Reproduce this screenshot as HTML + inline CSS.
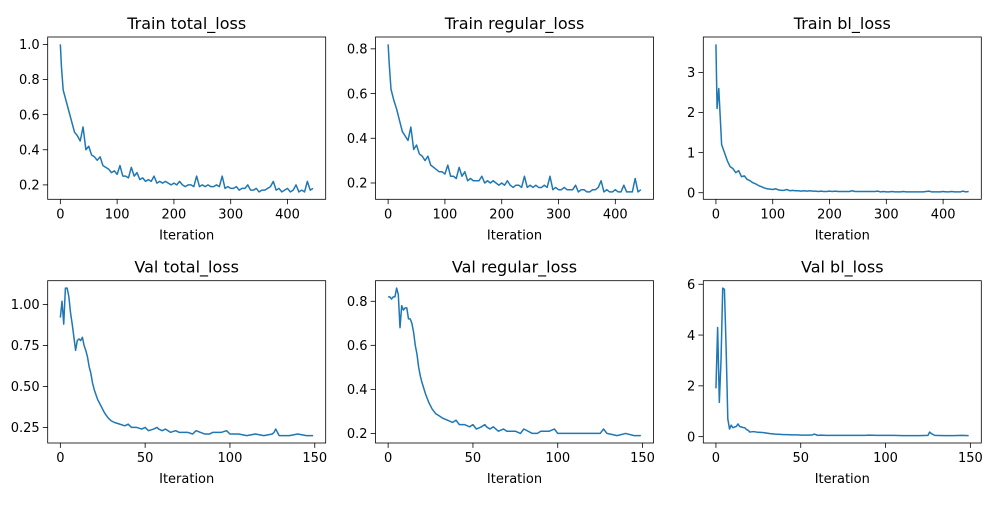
<!DOCTYPE html>
<html><head><meta charset="utf-8"><style>
body{margin:0;background:#fff;}
svg text{font-family:"DejaVu Sans","Liberation Sans",sans-serif;fill:#000;}
</style></head><body>
<svg id="fig" width="1000" height="500" xmlns="http://www.w3.org/2000/svg"></svg>
<script>
const trainX=[0,2,5,10,15,20,25,30,35,40,45,50,55,60,65,70,75,80,85,90,95,100,105,110,115,120,125,130,135,140,145,150,155,160,165,170,175,180,185,190,195,200,205,210,215,220,225,230,235,240,245,250,255,260,265,270,275,280,285,290,295,300,305,310,315,320,325,330,335,340,345,350,355,360,365,370,375,380,385,390,395,400,405,410,415,420,425,430,435,440,445];
const trainTotal=[1.0,0.87,0.74,0.68,0.62,0.56,0.5,0.48,0.45,0.53,0.4,0.42,0.37,0.36,0.34,0.36,0.31,0.3,0.29,0.27,0.28,0.26,0.31,0.25,0.25,0.24,0.3,0.25,0.27,0.23,0.24,0.22,0.23,0.22,0.25,0.21,0.22,0.21,0.22,0.21,0.2,0.21,0.2,0.22,0.2,0.19,0.2,0.2,0.19,0.25,0.19,0.2,0.19,0.2,0.19,0.19,0.2,0.19,0.25,0.18,0.19,0.18,0.18,0.19,0.17,0.18,0.18,0.2,0.17,0.17,0.18,0.16,0.17,0.17,0.18,0.19,0.22,0.17,0.18,0.16,0.17,0.18,0.16,0.17,0.2,0.16,0.17,0.16,0.22,0.17,0.18];
const trainRegular=[0.82,0.73,0.62,0.57,0.53,0.48,0.43,0.41,0.39,0.45,0.35,0.37,0.33,0.32,0.3,0.32,0.28,0.27,0.26,0.25,0.25,0.24,0.28,0.23,0.23,0.22,0.27,0.23,0.25,0.21,0.22,0.21,0.21,0.21,0.23,0.2,0.21,0.2,0.21,0.2,0.19,0.2,0.19,0.21,0.19,0.18,0.19,0.19,0.18,0.23,0.18,0.19,0.18,0.19,0.18,0.18,0.19,0.18,0.23,0.17,0.18,0.17,0.17,0.18,0.17,0.17,0.17,0.19,0.16,0.17,0.17,0.16,0.16,0.17,0.17,0.18,0.21,0.16,0.17,0.16,0.16,0.17,0.16,0.16,0.19,0.16,0.16,0.16,0.22,0.16,0.17];
const trainBl=[3.7,2.1,2.6,1.2,1.0,0.8,0.65,0.6,0.5,0.55,0.4,0.42,0.33,0.3,0.25,0.22,0.18,0.15,0.12,0.1,0.09,0.08,0.1,0.07,0.06,0.06,0.08,0.05,0.06,0.05,0.05,0.04,0.05,0.04,0.05,0.04,0.04,0.03,0.04,0.03,0.03,0.04,0.03,0.04,0.03,0.03,0.03,0.03,0.03,0.05,0.03,0.03,0.03,0.03,0.03,0.03,0.03,0.03,0.04,0.02,0.03,0.02,0.02,0.03,0.02,0.02,0.02,0.03,0.02,0.02,0.02,0.02,0.02,0.02,0.02,0.03,0.04,0.02,0.02,0.02,0.02,0.03,0.02,0.02,0.03,0.02,0.02,0.02,0.04,0.02,0.03];
const valX=[0,1,2,3,4,5,6,7,8,9,10,11,12,13,14,15,16,17,18,19,20,22,24,26,28,30,32,35,38,40,42,45,48,50,52,55,57,58,60,62,65,68,70,75,78,80,85,88,90,95,98,100,105,110,115,120,125,126,127,129,135,140,145,149];
const valTotal=[0.92,1.02,0.88,1.1,1.1,1.05,0.95,0.88,0.8,0.72,0.78,0.79,0.78,0.8,0.75,0.72,0.68,0.62,0.58,0.52,0.48,0.42,0.38,0.34,0.31,0.29,0.28,0.27,0.26,0.27,0.25,0.25,0.24,0.25,0.23,0.24,0.25,0.24,0.23,0.24,0.22,0.23,0.22,0.22,0.21,0.23,0.21,0.21,0.22,0.22,0.23,0.21,0.21,0.2,0.21,0.2,0.21,0.22,0.24,0.2,0.2,0.21,0.2,0.2];
const valRegular=[0.82,0.82,0.81,0.82,0.82,0.86,0.83,0.68,0.78,0.76,0.77,0.77,0.72,0.72,0.7,0.66,0.6,0.56,0.5,0.46,0.43,0.38,0.34,0.31,0.29,0.28,0.27,0.26,0.25,0.26,0.24,0.24,0.23,0.24,0.22,0.23,0.24,0.23,0.22,0.23,0.21,0.22,0.21,0.21,0.2,0.22,0.2,0.2,0.21,0.21,0.22,0.2,0.2,0.2,0.2,0.2,0.2,0.21,0.22,0.2,0.19,0.2,0.19,0.19];
const valBl=[1.9,4.3,1.35,3.0,5.85,5.8,3.5,0.7,0.3,0.45,0.35,0.38,0.4,0.5,0.4,0.38,0.36,0.35,0.28,0.25,0.18,0.2,0.18,0.17,0.16,0.14,0.12,0.1,0.09,0.08,0.08,0.07,0.07,0.06,0.06,0.06,0.07,0.1,0.05,0.06,0.05,0.05,0.05,0.05,0.05,0.05,0.05,0.05,0.06,0.05,0.05,0.05,0.05,0.04,0.04,0.04,0.05,0.18,0.12,0.05,0.04,0.04,0.05,0.04];
const trainXTicks=[0,100,200,300,400];
const valXTicks=[0,50,100,150];
const plots=[
 {name:'train-total-loss',title:'Train total_loss',x:trainX,y:trainTotal,xmax:445,yt:[0.2,0.4,0.6,0.8,1.0],lab:['0.2','0.4','0.6','0.8','1.0'],xt:trainXTicks,col:0,row:0},
 {name:'train-regular-loss',title:'Train regular_loss',x:trainX,y:trainRegular,xmax:445,yt:[0.2,0.4,0.6,0.8],lab:['0.2','0.4','0.6','0.8'],xt:trainXTicks,col:1,row:0},
 {name:'train-bl-loss',title:'Train bl_loss',x:trainX,y:trainBl,xmax:445,yt:[0,1,2,3],lab:['0','1','2','3'],xt:trainXTicks,col:2,row:0},
 {name:'val-total-loss',title:'Val total_loss',x:valX,y:valTotal,xmax:149,yt:[0.25,0.5,0.75,1.0],lab:['0.25','0.50','0.75','1.00'],xt:valXTicks,col:0,row:1},
 {name:'val-regular-loss',title:'Val regular_loss',x:valX,y:valRegular,xmax:149,yt:[0.2,0.4,0.6,0.8],lab:['0.2','0.4','0.6','0.8'],xt:valXTicks,col:1,row:1},
 {name:'val-bl-loss',title:'Val bl_loss',x:valX,y:valBl,xmax:149,yt:[0,2,4,6],lab:['0','2','4','6'],xt:valXTicks,col:2,row:1}
];
const NS='http://www.w3.org/2000/svg';
const fig=document.getElementById('fig');
function mk(tag,attrs,parent){const e=document.createElementNS(NS,tag);for(const k in attrs)e.setAttribute(k,attrs[k]);parent.appendChild(e);return e;}
const lefts=[47.7,375.5,703.3],tops=[37,280.7],W=278,H=162.3;
plots.forEach(p=>{
 const g=mk('g',{},fig);
 
 
 const L=lefts[p.col],T=tops[p.row];
 const x0=-0.05*p.xmax,x1=p.xmax*1.05;
 let mn=Math.min(...p.y),mx=Math.max(...p.y);const r=mx-mn;const y0=mn-0.05*r,y1=mx+0.05*r;
 const sx=v=>L+(v-x0)/(x1-x0)*W, sy=v=>T+H-(v-y0)/(y1-y0)*H;
 const d=p.x.map((v,i)=>(i?'L':'M')+sx(v).toFixed(2)+','+sy(p.y[i]).toFixed(2)).join('');
 const path=mk('path',{d:d,fill:'none',stroke:'#1f77b4','stroke-width':1.5,'stroke-linejoin':'round'},g);
 
 
 const fr=mk('rect',{x:L,y:T,width:W,height:H,fill:'none',stroke:'#000','stroke-width':0.8},g);
 
 
 p.xt.forEach(t=>{const X=sx(t);mk('line',{x1:X,x2:X,y1:T+H,y2:T+H+4.9,stroke:'#000','stroke-width':0.8},g);
  const tx=mk('text',{x:X,y:T+H+19,'text-anchor':'middle','font-size':13},g);tx.textContent=t;
  
  });
 p.yt.forEach((t,i)=>{const Y=sy(t);mk('line',{x1:L-4.9,x2:L,y1:Y,y2:Y,stroke:'#000','stroke-width':0.8},g);
  const tx=mk('text',{x:L-8,y:Y+4.7,'text-anchor':'end','font-size':13},g);tx.textContent=p.lab[i];
  
  });
 const xl=mk('text',{x:L+W/2,y:T+H+40,'text-anchor':'middle','font-size':13},g);xl.textContent='Iteration';
 
 
 const tt=mk('text',{x:L+W/2,y:T-8,'text-anchor':'middle','font-size':16},g);tt.textContent=p.title;
 
 
});
</script>
</body></html>
